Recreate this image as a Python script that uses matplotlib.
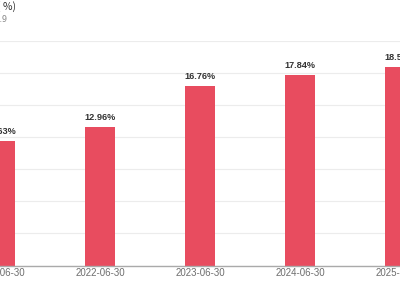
import matplotlib
matplotlib.use("Agg")
import matplotlib.pyplot as plt

categories = ["2021-06-30", "2022-06-30", "2023-06-30", "2024-06-30", "2025-06-30"]
values = [11.63, 12.96, 16.76, 17.84, 18.53]
yticks = [0, 3, 6, 9, 12, 15, 18, 21]

plt.rcParams['font.family'] = ['Liberation Sans', 'Noto Sans CJK SC', 'DejaVu Sans']

fig = plt.figure(figsize=(4, 3), dpi=100)
ax = fig.add_axes([0, 0.115, 1, 0.7493])

x = list(range(len(categories)))
ax.bar(x, values, width=0.3, color="#E84C5F", zorder=2)
for xi, v in zip(x, values):
    ax.text(xi, v + 0.45, f"{v:.2f}%", ha="center", va="bottom",
            fontsize=6.6, color="#333333", fontweight="bold")

ax.set_xlim(-0.005, 3.995)
ax.set_ylim(0, 21)
ax.set_yticks(yticks)
ax.yaxis.grid(True, color="#ECECEC", linewidth=0.8, zorder=0)
ax.tick_params(axis="y", left=False, labelleft=False)
ax.set_xticks(x)
ax.set_xticklabels(categories, fontsize=7, color="#6E6E6E")
ax.tick_params(axis="x", length=0, pad=1.5)
for s in ["top", "right", "left"]:
    ax.spines[s].set_visible(False)
ax.spines["bottom"].set_color("#AAAAAA")
ax.spines["bottom"].set_linewidth(1.0)
ax.set_axisbelow(True)

fig.text(16 / 400, 1 - 6 / 300, "净利率( %)", ha="right", va="center",
         fontsize=7.5, color="#333333", family=['Noto Sans CJK SC', 'DejaVu Sans'])
fig.text(8 / 400, 1 - 19 / 300, "数据截至2025.9", ha="right", va="center",
         fontsize=6.5, color="#8A8A8A", family=['Noto Sans CJK SC', 'DejaVu Sans'])

fig.savefig("out.png", dpi=100)
